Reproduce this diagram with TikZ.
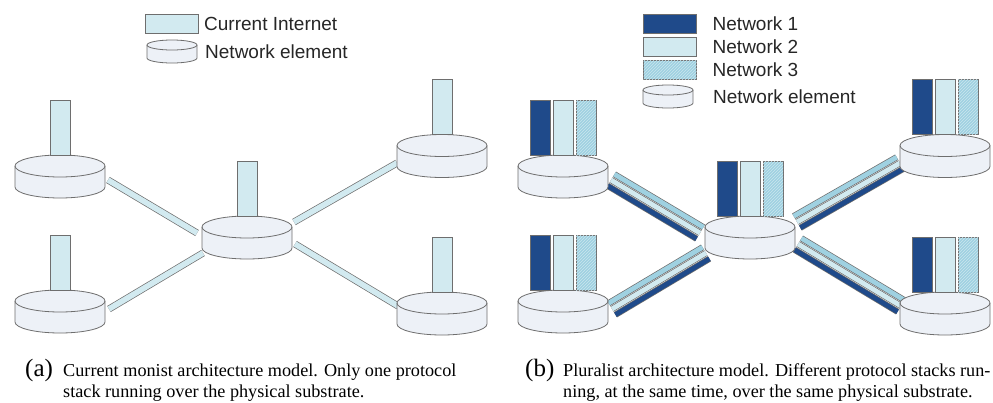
\documentclass[tikz,border=0pt]{standalone}
\usepackage{fontspec}
\setmainfont{Liberation Serif}
\newfontfamily\legendfont{Liberation Sans}
\usetikzlibrary{positioning,calc,patterns,backgrounds}

\definecolor{edgegray}{HTML}{6E6E6E}
\definecolor{elemfill}{HTML}{EDF1F7}
\definecolor{netone}{HTML}{1F4A8A}
\definecolor{nettwo}{HTML}{D2EAF0}
\definecolor{netthree}{HTML}{9FD1E1}

\begin{document}
\begin{tikzpicture}[
		x=1pt, y=-1pt
		,cyl/.style n args={3}{minimum width={(2*#1+1.6)*1pt}, minimum height={(2*#2+2*#3+1.6)*1pt}, inner sep=0pt, outer sep=0pt,
			path picture={
				\draw [draw=edgegray, line width=0.8pt, fill=elemfill]
					([shift={(-#1pt,#3pt)}]path picture bounding box.center) -- ++(0pt,-2*#3pt)
					arc [start angle=180, end angle=360, x radius=#1pt, y radius=#2pt] -- ++(0pt,2*#3pt)
					arc [start angle=0, end angle=180, x radius=#1pt, y radius=#2pt] -- cycle;
				\draw [draw=edgegray, line width=0.8pt]
					([shift={(#1pt,#3pt)}]path picture bounding box.center)
					arc [start angle=0, end angle=-180, x radius=#1pt, y radius=#2pt];
			}}
		,elem/.style={cyl={45}{11}{10.5}}
		,smallelem/.style={cyl={25}{5}{6.5}}
		,stack/.style={draw=edgegray, line width=0.8pt, minimum width=20pt, minimum height=55pt, inner sep=0pt, outer sep=0pt}
		,one/.style={fill=netone}
		,two/.style={fill=nettwo}
		,three/.style={fill=netthree, postaction={pattern=north east lines, pattern color=white!45!netthree}}
		,key/.style={draw=edgegray, line width=0.8pt, minimum width=53pt, minimum height=19pt, inner sep=0pt, outer sep=0pt}
		,keytext/.style={anchor=west, font=\legendfont\fontsize{19}{19}\selectfont, text=black!85, inner sep=0pt}
		,link/.style={double=nettwo, double distance=5.6pt, draw=edgegray, line width=0.7pt}
		,bar/.style={double distance=4.8pt, draw=edgegray, line width=0.7pt}
		,captext/.style={anchor=base west, inner sep=0pt, font=\fontsize{18.2}{18.2}\selectfont}
		,tag/.style={anchor=base west, inner sep=0pt, font=\fontsize{25}{25}\selectfont}
	]
	\useasboundingbox (0,0) rectangle (993,402);

	% (a) current internet
	\node [key, two] (k) at (171.5,23.5) {};
	\node [keytext, right=6pt of k] (kt) {Current Internet};
	\node [smallelem] (ke) at (172,51.5) {};
	\node [keytext] (ket) at (205,51.5) {Network element};

	\node [elem] (tl) at (60,176.5) {};
	\node [elem] (tr) at (442,156) {};
	\node [elem] (c) at (247,237.5) {};
	\node [elem] (bl) at (60,311.5) {};
	\node [elem] (br) at (442,313.5) {};

	\node [stack, two, above=-0.8pt of tl] (tls) {};
	\node [stack, two, above=-0.8pt of tr] (trs) {};
	\node [stack, two, above=-0.8pt of c] (cs) {};
	\node [stack, two, above=-0.8pt of bl] (bls) {};
	\node [stack, two, above=-0.8pt of br] (brs) {};

	\begin{scope}[on background layer]
		\draw [link] ($(tl)+(48,3.5)$) -- ($(c)+(-50,-4.5)$);
		\draw [link] ($(c)+(47,-15.5)$) -- ($(tr)+(-45,7)$);
		\draw [link] ($(bl)+(49,-2.5)$) -- ($(c)+(-44,15.5)$);
		\draw [link] ($(c)+(48,6.5)$) -- ($(br)+(-44,-7.5)$);
	\end{scope}

	% (b) pluralist
	\node [key, one] (k1) at (670,23.5) {};
	\node [key, two, below=4pt of k1] (k2) {};
	\node [key, three, below=4pt of k2] (k3) {};
	\node [smallelem] (ke2) at (668,96.5) {};
	\node [keytext, right=16pt of k1] (k1t) {Network 1};
	\node [keytext, right=16pt of k2] (k2t) {Network 2};
	\node [keytext, right=16pt of k3] (k3t) {Network 3};
	\node [keytext] (ke2t) at (713,96.5) {Network element};

	\node [elem] (rtl) at (563,176.5) {};
	\node [elem] (rtr) at (945,156) {};
	\node [elem] (rc) at (750,237.5) {};
	\node [elem] (rbl) at (563,311.5) {};
	\node [elem] (rbr) at (945,313.5) {};

	\node [stack, two, above=-0.8pt of rtl] (rtl2) {};
	\node [stack, one, left=3pt of rtl2] (rtl1) {};
	\node [stack, three, right=3pt of rtl2] (rtl3) {};
	\node [stack, two, above=-0.8pt of rtr] (rtr2) {};
	\node [stack, one, left=3pt of rtr2] (rtr1) {};
	\node [stack, three, right=3pt of rtr2] (rtr3) {};
	\node [stack, two, above=-0.8pt of rc] (rc2) {};
	\node [stack, one, left=3pt of rc2] (rc1) {};
	\node [stack, three, right=3pt of rc2] (rc3) {};
	\node [stack, two, above=-0.8pt of rbl] (rbl2) {};
	\node [stack, one, left=3pt of rbl2] (rbl1) {};
	\node [stack, three, right=3pt of rbl2] (rbl3) {};
	\node [stack, two, above=-0.8pt of rbr] (rbr2) {};
	\node [stack, one, left=3pt of rbr2] (rbr1) {};
	\node [stack, three, right=3pt of rbr2] (rbr3) {};

	\coordinate (p1) at ($(rtl)+(48,3.5)$);
	\coordinate (q1) at ($(rc)+(-50,-4.5)$);
	\coordinate (p2) at ($(rc)+(47,-15.5)$);
	\coordinate (q2) at ($(rtr)+(-45,7)$);
	\coordinate (p3) at ($(rbl)+(49,-2.5)$);
	\coordinate (q3) at ($(rc)+(-44,15.5)$);
	\coordinate (p4) at ($(rc)+(48,6.5)$);
	\coordinate (q4) at ($(rbr)+(-44,-7.5)$);

	\begin{scope}[on background layer]
		% upper bar network 3, middle network 2, lower network 1
		\draw [bar, double=netthree] ($(p1)!6.7pt!90:(q1)$) -- ($(q1)!6.7pt!-90:(p1)$);
		\draw [bar, double=nettwo] (p1) -- (q1);
		\draw [bar, double=netone] ($(p1)!6.7pt!-90:(q1)$) -- ($(q1)!6.7pt!90:(p1)$);
		\draw [bar, double=netthree] ($(p2)!6.7pt!90:(q2)$) -- ($(q2)!6.7pt!-90:(p2)$);
		\draw [bar, double=nettwo] (p2) -- (q2);
		\draw [bar, double=netone] ($(p2)!6.7pt!-90:(q2)$) -- ($(q2)!6.7pt!90:(p2)$);
		\draw [bar, double=netthree] ($(p3)!6.7pt!90:(q3)$) -- ($(q3)!6.7pt!-90:(p3)$);
		\draw [bar, double=nettwo] (p3) -- (q3);
		\draw [bar, double=netone] ($(p3)!6.7pt!-90:(q3)$) -- ($(q3)!6.7pt!90:(p3)$);
		\draw [bar, double=netthree] ($(p4)!6.7pt!90:(q4)$) -- ($(q4)!6.7pt!-90:(p4)$);
		\draw [bar, double=nettwo] (p4) -- (q4);
		\draw [bar, double=netone] ($(p4)!6.7pt!-90:(q4)$) -- ($(q4)!6.7pt!90:(p4)$);
	\end{scope}

	% captions
	\node [tag] (ta) at (25,376) {(a)};
	\node [captext] (ca1) at (63,376) {Current monist architecture model. Only one protocol};
	\node [captext] (ca2) at (63,397) {stack running over the physical substrate.};
	\node [tag] (tb) at (525,376) {(b)};
	\node [captext] (cb1) at (563,376) {Pluralist architecture model. Different protocol stacks run-};
	\node [captext] (cb2) at (563,397) {ning, at the same time, over the same physical substrate.};
\end{tikzpicture}
\end{document}
